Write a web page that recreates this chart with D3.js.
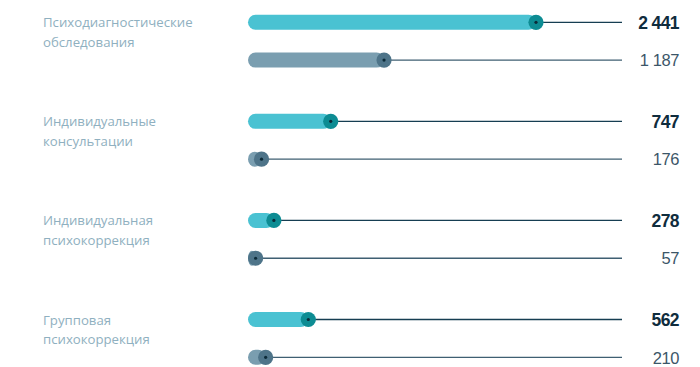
<!DOCTYPE html>
<html><head><meta charset="utf-8">
<script src="https://cdn.jsdelivr.net/npm/d3@7"></script>
<style>
html,body{margin:0;padding:0;background:#fff;}
svg{display:block;}
</style>
</head><body>
<svg id="chart" width="700" height="367"></svg>
<script>
const categories = [
  ["Психодиагностические", "обследования"],
  ["Индивидуальные", "консультации"],
  ["Индивидуальная", "психокоррекция"],
  ["Групповая", "психокоррекция"]
];
const seriesA = [2441, 747, 278, 562];
const seriesB = [1187, 176, 57, 210];
const labelsA = ["2 441", "747", "278", "562"];
const labelsB = ["1 187", "176", "57", "210"];

const svg = d3.select("#chart");
const barLeft = 248, barH = 15, r = 7.6, lineEnd = 622, labelX = 679;

const x = d3.scaleLinear().domain([0, 2441]).range([240.2, 536]);
const groupY = d3.scalePoint().domain(d3.range(categories.length)).range([22.3, 319.5]);
const subOffset = 37.8;

const styles = [
  {bar:"#4ac2d2", dot:"#0d8c93", line:"#163e52", text:"#0f2c3d", weight:"bold", size:17.5, ls:"-0.6"},
  {bar:"#7a9eb0", dot:"#4e7489", line:"#3f5f72", text:"#3b5668", weight:"normal", size:16.5, ls:"-0.4"}
];

const rows = [];
categories.forEach((c, i) => {
  rows.push({v: seriesA[i], lab: labelsA[i], y: groupY(i), s: styles[0]});
  rows.push({v: seriesB[i], lab: labelsB[i], y: groupY(i) + subOffset, s: styles[1]});
});

const cx = v => Math.max(x(v), barLeft + r);

const g = svg.append("g");
const row = g.selectAll("g.row").data(rows).join("g").attr("class","row");

row.append("line")
  .attr("x1", d => cx(d.v)).attr("x2", lineEnd)
  .attr("y1", d => d.y).attr("y2", d => d.y)
  .attr("stroke", d => d.s.line).attr("stroke-width", 1.3);

row.append("rect")
  .attr("x", barLeft).attr("y", d => d.y - barH/2)
  .attr("width", d => cx(d.v) - barLeft).attr("height", barH)
  .attr("rx", barH/2).attr("ry", barH/2)
  .attr("fill", d => d.s.bar);

row.append("circle")
  .attr("cx", d => cx(d.v)).attr("cy", d => d.y).attr("r", r)
  .attr("fill", d => d.s.dot);

row.append("circle")
  .attr("cx", d => cx(d.v)).attr("cy", d => d.y).attr("r", 1.6)
  .attr("fill", "#0b2a38");

row.append("text")
  .attr("x", labelX).attr("y", d => d.y + 6.2)
  .attr("text-anchor", "end")
  .attr("font-family", "'Liberation Sans', Arial, sans-serif")
  .attr("font-weight", d => d.s.weight)
  .attr("font-size", d => d.s.size)
  .attr("letter-spacing", d => d.s.ls)
  .attr("fill", d => d.s.text)
  .text(d => d.lab);

const cat = g.selectAll("text.cat").data(categories).join("text")
  .attr("class","cat")
  .attr("x", 43).attr("y", (d, i) => groupY(i) + 5)
  .attr("font-family", "'Open Sans', 'Noto Sans', sans-serif")
  .attr("font-size", 13.2)
  .attr("fill", "#8fb0c0");
cat.selectAll("tspan").data(d => d).join("tspan")
  .attr("x", 43).attr("dy", (d, j) => j === 0 ? 0 : 19.5)
  .text(d => d);
</script>
</body></html>
